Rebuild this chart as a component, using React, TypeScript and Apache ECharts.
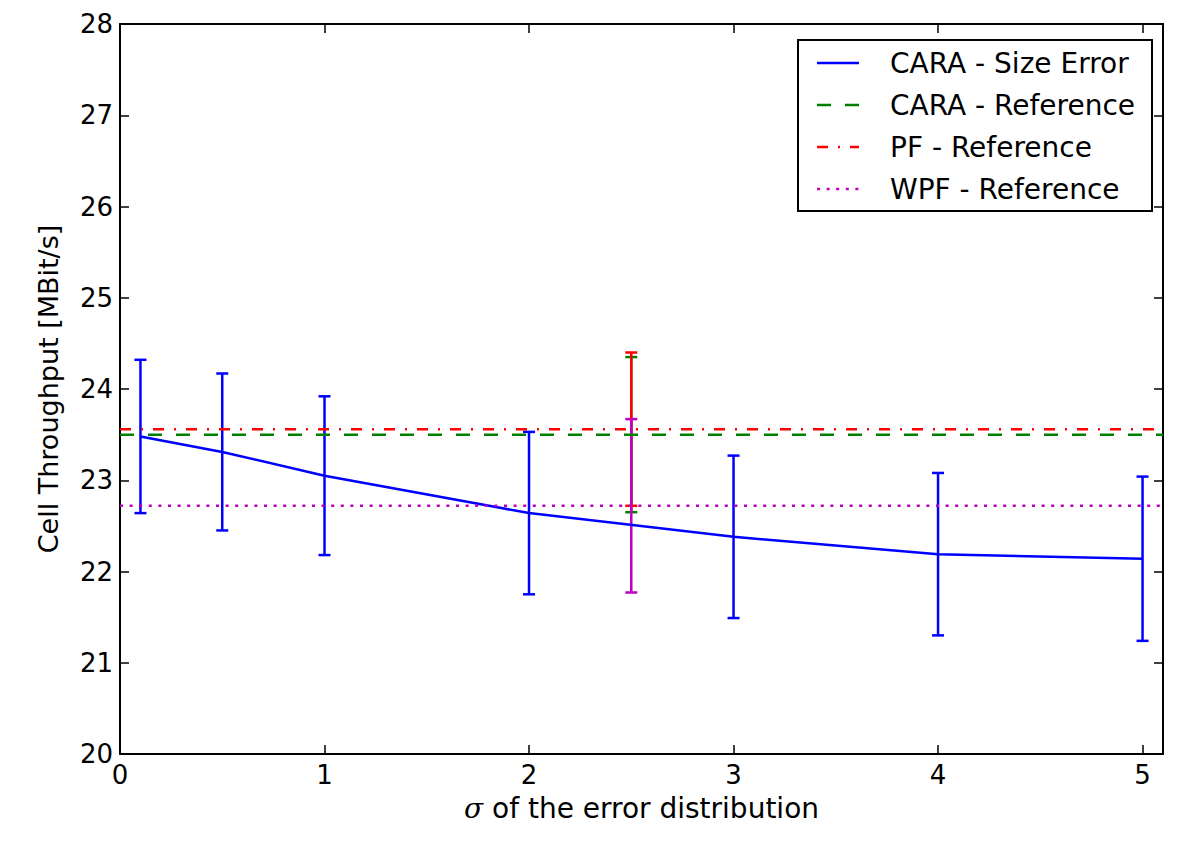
import React, { useEffect, useRef } from "react";
import * as echarts from "echarts";

// ---- data ----
const sigmaValues = [0.1, 0.5, 1, 2, 3, 4, 5];
const caraSizeError = [23.48, 23.31, 23.05, 22.64, 22.38, 22.19, 22.14];
const caraSizeErrorDev = [0.84, 0.86, 0.87, 0.89, 0.89, 0.89, 0.9];

const refSigma = 2.5;
const caraReference = 23.5;
const caraReferenceDev = 0.85;
const pfReference = 23.56;
const pfReferenceDev = 0.84;
const wpfReference = 22.72;
const wpfReferenceDev = 0.95;

const xTicks = [0, 1, 2, 3, 4, 5];
const yTicks = [20, 21, 22, 23, 24, 25, 26, 27, 28];
const xMin = 0;
const xMax = 5.1;

const legendLabels = [
  "CARA - Size Error",
  "CARA - Reference",
  "PF - Reference",
  "WPF - Reference",
];

// ---- styles ----
const BLUE = "#0000ff";
const GREEN = "#008000";
const RED = "#ff0000";
const MAGENTA = "#bf00bf";
const FONT = "DejaVu Sans";
const LW = 2.5;
const legendStyles = [
  { color: BLUE, dash: null as null | number[] },
  { color: GREEN, dash: [14, 14] },
  { color: RED, dash: [11, 10, 2, 10] },
  { color: MAGENTA, dash: [3, 6.6] },
];

function errRender(color: string) {
  return (params: any, api: any) => {
    const x = api.value(0);
    const lo = api.value(1);
    const hi = api.value(2);
    const pHi = api.coord([x, hi]);
    const pLo = api.coord([x, lo]);
    const hw = 6;
    const style = { stroke: color, lineWidth: LW, fill: null };
    return {
      type: "group",
      children: [
        { type: "line", shape: { x1: pHi[0], y1: pHi[1], x2: pLo[0], y2: pLo[1] }, style },
        { type: "line", shape: { x1: pHi[0] - hw, y1: pHi[1], x2: pHi[0] + hw, y2: pHi[1] }, style },
        { type: "line", shape: { x1: pLo[0] - hw, y1: pLo[1], x2: pLo[0] + hw, y2: pLo[1] }, style },
      ],
    };
  };
}

function errSeries(name: string, color: string, xs: number[], ys: number[], devs: number[]) {
  return {
    type: "custom",
    name,
    xAxisIndex: 0,
    yAxisIndex: 0,
    renderItem: errRender(color),
    encode: { x: 0, y: [1, 2] },
    data: xs.map((x, i) => [x, ys[i] - devs[i], ys[i] + devs[i]]),
    silent: true,
    clip: false,
  };
}

function refLine(name: string, color: string, v: number, dash: number[]) {
  return {
    type: "line",
    name,
    xAxisIndex: 0,
    yAxisIndex: 0,
    data: [
      [xMin, v],
      [xMax, v],
    ],
    symbol: "none",
    lineStyle: { color, width: LW, type: dash },
    silent: true,
  };
}

const axisLineStyle = { color: "#000", width: 2 };
const tickStyle = { color: "#000", width: 1.5 };

export default function App() {
  const ref = useRef<HTMLDivElement>(null);
  useEffect(() => {
    if (!ref.current) return;
    const chart = echarts.init(ref.current, null, { renderer: "svg" });
    const legendTop = 40;
    const rowY = [63, 105, 147, 189];
    const graphic: any[] = [
      {
        type: "rect",
        z: 100,
        shape: { x: 798, y: legendTop, width: 354, height: 171 },
        style: { fill: "#fff", stroke: "#000", lineWidth: 2 },
      },
    ];
    legendLabels.forEach((label, i) => {
      const st = legendStyles[i];
      graphic.push({
        type: "line",
        z: 101,
        shape: { x1: 817, y1: rowY[i], x2: 859, y2: rowY[i] },
        style: { stroke: st.color, lineWidth: LW, lineDash: st.dash || undefined },
      });
      graphic.push({
        type: "text",
        z: 101,
        x: 890,
        y: rowY[i],
        style: {
          text: label,
          fill: "#000",
          font: `28px "${FONT}"`,
          verticalAlign: "middle",
          align: "left",
        },
      });
    });

    chart.setOption({
      animation: false,
      backgroundColor: "#fff",
      textStyle: { fontFamily: FONT },
      grid: { left: 120, right: 37, top: 24, bottom: 103, containLabel: false },
      xAxis: [
        {
          type: "value",
          position: "bottom",
          min: xMin,
          max: xMax,
          name: "{i|σ} of the error distribution",
          nameLocation: "middle",
          nameGap: 40,
          nameTextStyle: {
            fontSize: 28,
            color: "#000",
            fontFamily: FONT,
            rich: { i: { fontStyle: "italic", fontSize: 28, fontFamily: "DejaVu Serif" } },
          },
          axisLine: { show: true, onZero: false, lineStyle: axisLineStyle },
          axisTick: { show: true, inside: true, length: 9, lineStyle: tickStyle, customValues: xTicks },
          axisLabel: { customValues: xTicks, fontSize: 26, color: "#000", margin: 8, fontFamily: FONT },
          splitLine: { show: false },
        },
        {
          type: "value",
          position: "top",
          min: xMin,
          max: xMax,
          axisLine: { show: true, onZero: false, lineStyle: axisLineStyle },
          axisTick: { show: true, inside: true, length: 9, lineStyle: tickStyle, customValues: xTicks },
          axisLabel: { show: false },
          splitLine: { show: false },
        },
      ],
      yAxis: [
        {
          type: "value",
          position: "left",
          min: yTicks[0],
          max: yTicks[yTicks.length - 1],
          interval: 1,
          name: "Cell Throughput [MBit/s]",
          nameLocation: "middle",
          nameGap: 58,
          nameTextStyle: { fontSize: 27, color: "#000", fontFamily: FONT },
          axisLine: { show: true, onZero: false, lineStyle: axisLineStyle },
          axisTick: { show: true, inside: true, length: 9, lineStyle: tickStyle },
          axisLabel: { fontSize: 26, color: "#000", margin: 7, fontFamily: FONT },
          splitLine: { show: false },
        },
        {
          type: "value",
          position: "right",
          min: yTicks[0],
          max: yTicks[yTicks.length - 1],
          interval: 1,
          axisLine: { show: true, onZero: false, lineStyle: axisLineStyle },
          axisTick: { show: true, inside: true, length: 9, lineStyle: tickStyle },
          axisLabel: { show: false },
          splitLine: { show: false },
        },
      ],
      series: [
        {
          type: "line",
          name: legendLabels[0],
          xAxisIndex: 0,
          yAxisIndex: 0,
          data: sigmaValues.map((x, i) => [x, caraSizeError[i]]),
          symbol: "none",
          lineStyle: { color: BLUE, width: LW },
          silent: true,
        },
        errSeries("CARA size err", BLUE, sigmaValues, caraSizeError, caraSizeErrorDev),
        refLine(legendLabels[1], GREEN, caraReference, [14, 14]),
        refLine(legendLabels[2], RED, pfReference, [11, 10, 2, 10]),
        refLine(legendLabels[3], MAGENTA, wpfReference, [3, 6.6]),
        errSeries("CARA ref err", GREEN, [refSigma], [caraReference], [caraReferenceDev]),
        errSeries("PF ref err", RED, [refSigma], [pfReference], [pfReferenceDev]),
        errSeries("WPF ref err", MAGENTA, [refSigma], [wpfReference], [wpfReferenceDev]),
      ],
      graphic,
    });
    return () => chart.dispose();
  }, []);
  return (
    <div
      ref={ref}
      style={{ position: "absolute", left: 0, top: 0, width: 1200, height: 857, background: "#fff" }}
    />
  );
}
